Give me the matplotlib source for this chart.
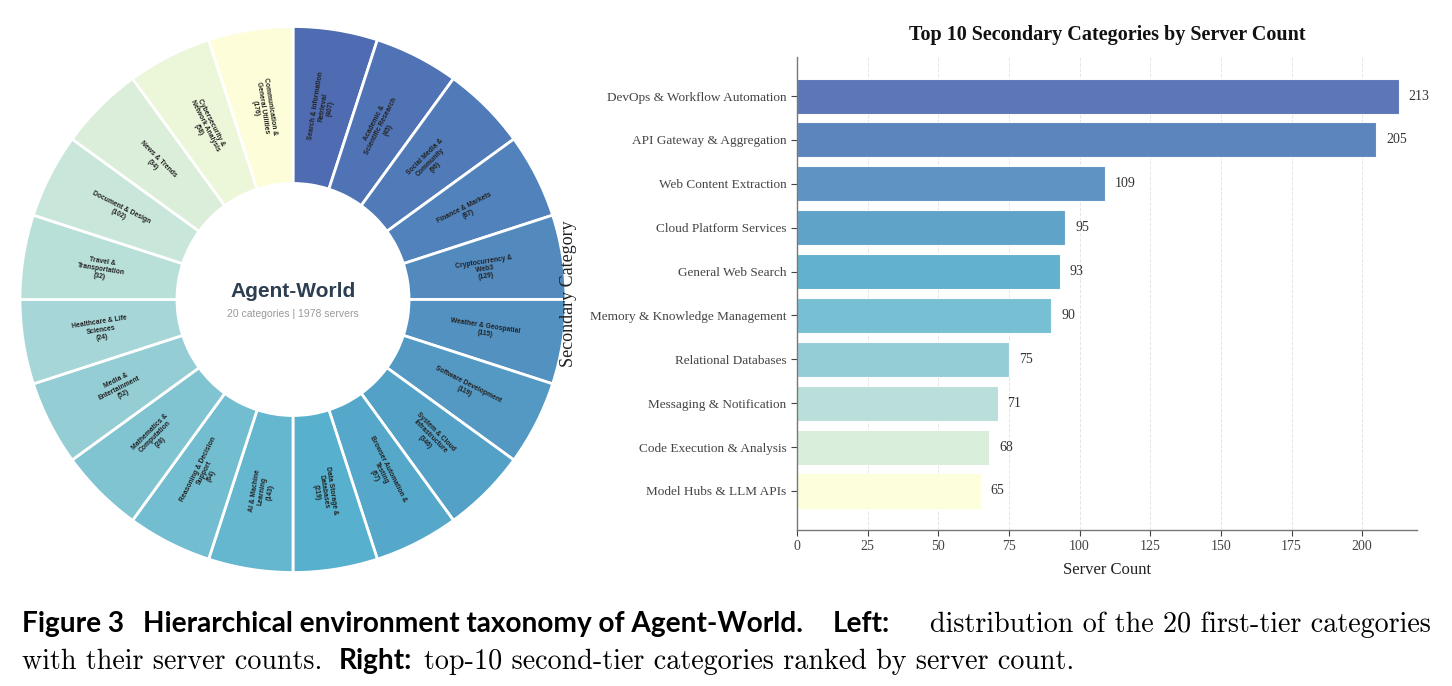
import textwrap

import matplotlib
matplotlib.use("Agg")
import matplotlib.pyplot as plt
import numpy as np
from matplotlib.colors import LinearSegmentedColormap

# ---- data -------------------------------------------------------------
first_tier = [
    "Search & Information Retrieval", "Academic & Scientific Research",
    "Social Media & Community", "Finance & Markets", "Cryptocurrency & Web3",
    "Weather & Geospatial", "Software Development",
    "System & Cloud Infrastructure", "Browser Automation & Testing",
    "Data Storage & Databases", "AI & Machine Learning",
    "Reasoning & Decision Support", "Mathematics & Computation",
    "Media & Entertainment", "Healthcare & Life Sciences",
    "Travel & Transportation", "Document & Design", "News & Trends",
    "Cybersecurity & Network Analysis", "Communication & General Utilities",
]
first_counts = [407, 45, 96, 87, 129, 115, 119, 346, 67, 219,
                143, 64, 28, 52, 24, 32, 102, 34, 58, 176]
total_servers = 1978

second_tier = [
    "DevOps & Workflow Automation", "API Gateway & Aggregation",
    "Web Content Extraction", "Cloud Platform Services", "General Web Search",
    "Memory & Knowledge Management", "Relational Databases",
    "Messaging & Notification", "Code Execution & Analysis",
    "Model Hubs & LLM APIs",
]
second_counts = [213, 205, 109, 95, 93, 90, 75, 71, 68, 65]

# ---- style ------------------------------------------------------------
cmap = LinearSegmentedColormap.from_list("agentworld", [
    (0.00, "#4f6cb2"), (0.47, "#56afcd"), (0.63, "#80c4d2"),
    (0.79, "#b8dfd9"), (0.89, "#d8edda"), (1.00, "#fdfed9"),
])
SANS = ["Liberation Sans", "DejaVu Sans"]
SERIF = ["Liberation Serif", "DejaVu Serif"]

W, H = 1452, 686
fig = plt.figure(figsize=(W / 100, H / 100), dpi=100)

# ---- left: donut ------------------------------------------------------
R_PX = 273
cx, cy = 293, 299.5
ax1 = fig.add_axes([(cx - R_PX) / W, (H - cy - R_PX) / H, 2 * R_PX / W, 2 * R_PX / H])
n = len(first_tier)
colors = cmap(np.linspace(0, 1, n))
ring = 0.575
ax1.pie(np.ones(n), startangle=90, counterclock=False, colors=colors,
        radius=1.0, wedgeprops=dict(width=ring, edgecolor="white", linewidth=2))
ax1.set_xlim(-1, 1)
ax1.set_ylim(-1, 1)
ax1.set_aspect("equal")
ax1.axis("off")

r_mid = 1 - ring / 2
for i, (name, c) in enumerate(zip(first_tier, first_counts)):
    ang = 90 - 360 / n * (i + 0.5)
    x = r_mid * np.cos(np.deg2rad(ang))
    y = r_mid * np.sin(np.deg2rad(ang))
    rot = ang % 360
    if 90 < rot < 270:
        rot -= 180
    label = "\n".join(textwrap.wrap(name, 20)) + f"\n({c})"
    ax1.text(x, y, label, rotation=rot, rotation_mode="anchor",
             ha="center", va="center", fontsize=4.9, fontweight="bold",
             color="#222222", family=SANS, linespacing=1.1)

ax1.text(0, 0.028, "Agent-World", ha="center", va="center", fontsize=15,
         fontweight="bold", color="#2c3e50", family=SANS)
ax1.text(0, -0.053, f"{n} categories | {total_servers} servers", ha="center",
         va="center", fontsize=7.5, color="#9a9a9a", family=SANS)

# ---- right: top-10 bar chart -----------------------------------------
ax2 = fig.add_axes([797 / W, 1 - 530 / H, 620 / W, (530 - 57) / H])
ypos = np.arange(len(second_tier))
bar_colors = cmap(np.linspace(0, 1, len(second_tier)))
ax2.barh(ypos, second_counts, height=0.8, color=bar_colors, alpha=0.93,
         edgecolor="white", linewidth=0.8, zorder=2)
for yy, v in zip(ypos, second_counts):
    ax2.text(v + 3.5, yy, str(v), va="center", ha="left", fontsize=10,
             color="#333333", family=SERIF)
ax2.set_yticks(ypos)
ax2.set_yticklabels(second_tier, family=SERIF, fontsize=9.5, color="#222222")
ax2.invert_yaxis()
ax2.set_xlim(0, max(second_counts) * 1.03)
ax2.set_xticks(np.arange(0, 201, 25))
for lab in ax2.get_xticklabels():
    lab.set_family(SERIF)
    lab.set_fontsize(10)
ax2.grid(axis="x", linestyle="--", color="#d5d5d5", alpha=0.6, linewidth=0.7, zorder=0)
ax2.set_axisbelow(True)
for s in ["top", "right"]:
    ax2.spines[s].set_visible(False)
for s in ["left", "bottom"]:
    ax2.spines[s].set_color("#777777")
    ax2.spines[s].set_linewidth(1.0)
    ax2.spines[s].set_zorder(4)
ax2.tick_params(colors="#444444", length=4, width=0.8)
ax2.set_xlabel("Server Count", family=SERIF, fontsize=12, color="#222222", labelpad=6)
ax2.set_ylabel("Secondary Category", family=SERIF, fontsize=13, color="#222222")
ax2.yaxis.set_label_coords((577 - 797) / 620, 0.5)
ax2.set_title("Top 10 Secondary Categories by Server Count", family=SERIF,
              fontsize=14.5, fontweight="bold", color="#111111", pad=12)

# ---- caption ----------------------------------------------------------
BOLD = dict(family=["Lato", "DejaVu Sans"], fontweight="bold", color="black")
BODY = dict(family=["cmr10", "DejaVu Serif"], color="black")

renderer = fig.canvas.get_renderer()


def width_at(txt, kw, size):
    t = fig.text(0, 0, txt, fontsize=size, **kw)
    w = t.get_window_extent(renderer).width
    t.remove()
    return w


head = "Figure 3\u2003Hierarchical environment taxonomy of Agent-World."
body1 = "distribution of the 20 first-tier categories"
# scale both fonts so the first line spans the figure like the reference
bold_size = 10 * 786 / width_at(head, BOLD, 10)
body_size = 10 * 502 / width_at(body1, BODY, 10)


def place(pieces, y_px, x0=22):
    x = x0
    for txt, kw, gap in pieces:
        size = bold_size if kw is BOLD else body_size
        t = fig.text(x / W, 1 - y_px / H, txt, fontsize=size, va="baseline", **kw)
        x += t.get_window_extent(renderer).width + gap


place([("Figure 3", BOLD, 19),
       ("Hierarchical environment taxonomy of Agent-World.", BOLD, 30),
       ("Left:", BOLD, 40), (body1, BODY, 0)], 632)
place([("with their server counts.", BODY, 16), ("Right:", BOLD, 12),
       ("top-10 second-tier categories ranked by server count.", BODY, 0)], 669)

fig.savefig("out.png", dpi=100)
